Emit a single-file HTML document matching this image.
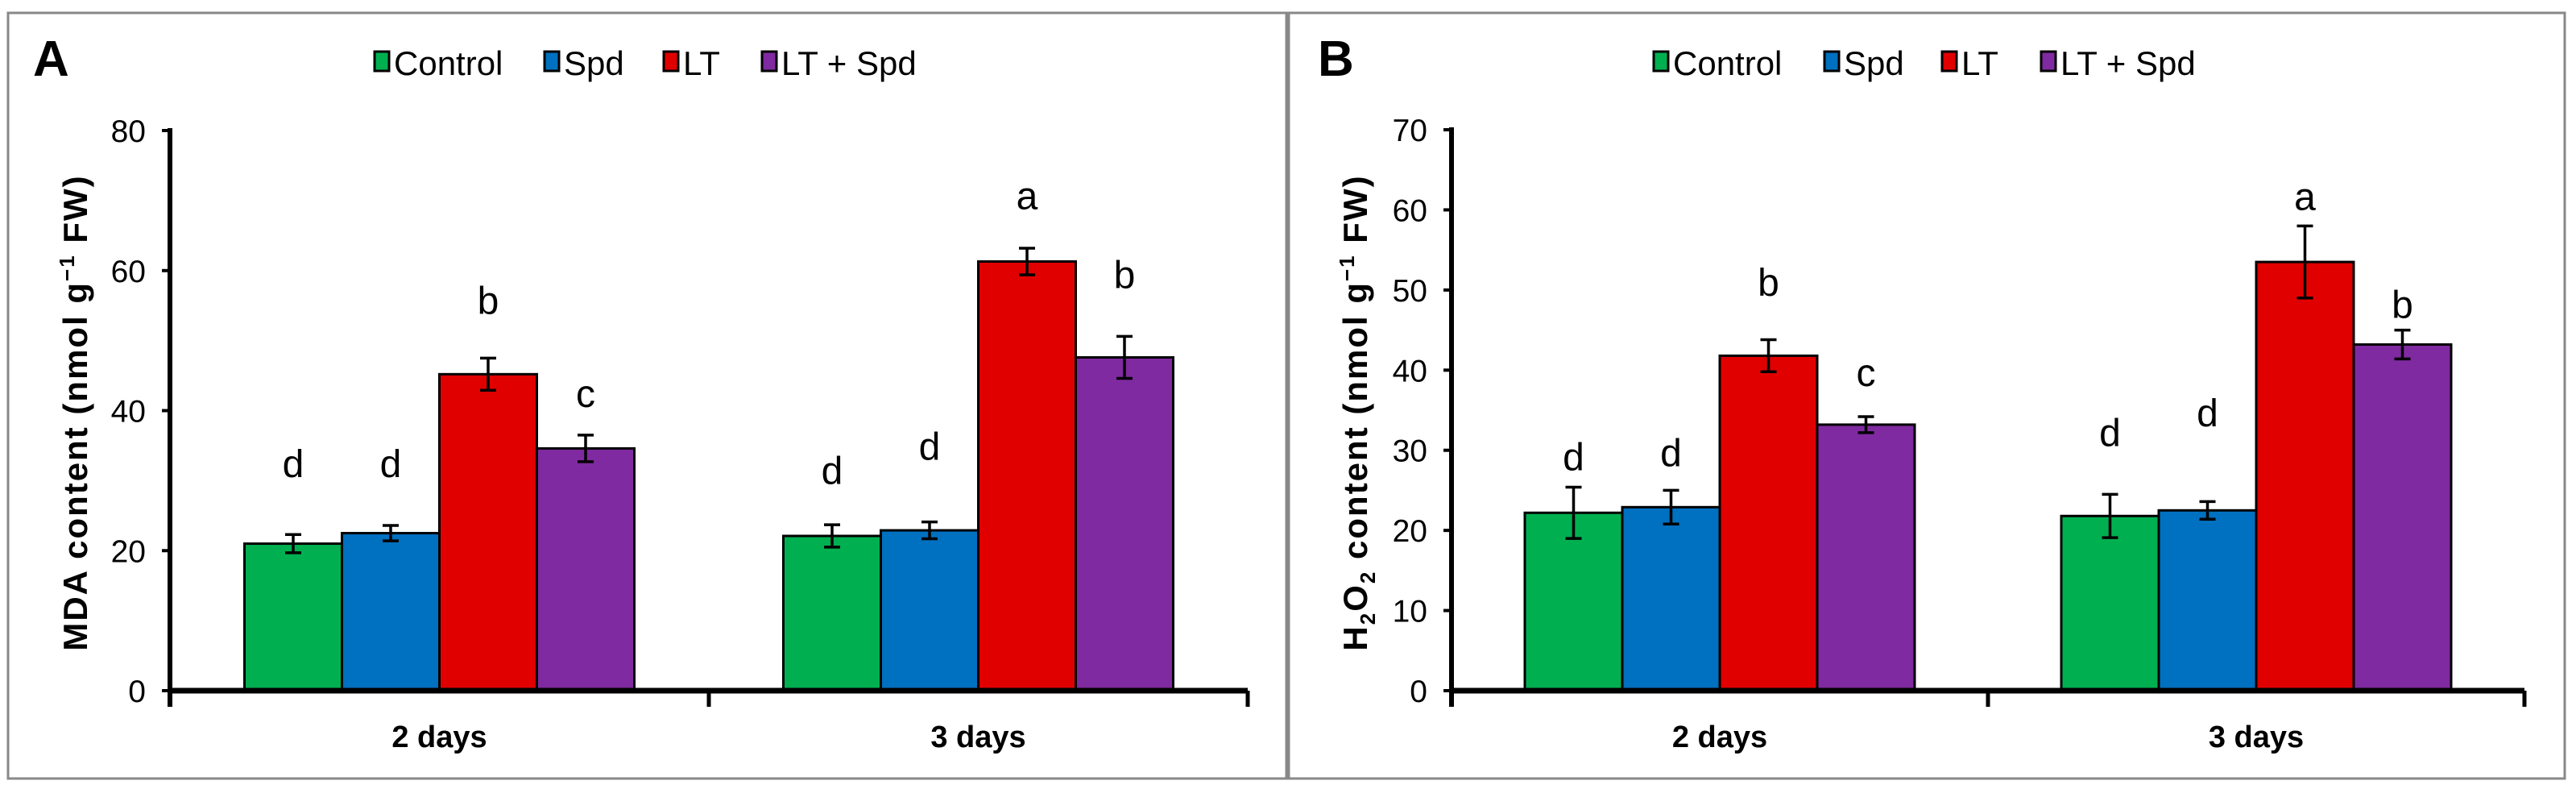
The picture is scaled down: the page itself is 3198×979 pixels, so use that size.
<!DOCTYPE html>
<html><head><meta charset="utf-8"><style>
html,body{margin:0;padding:0;background:#fff;}
svg{display:block;font-family:"Liberation Sans",Arial,sans-serif;}
</style></head><body>
<svg id="fig" width="3198" height="979" viewBox="0 0 3198 979" xmlns="http://www.w3.org/2000/svg">
<rect x="0" y="0" width="3198" height="979" fill="#fff"/>
</svg>
<script>
const categories = ["2 days", "3 days"];
const seriesNames = ["Control", "Spd", "LT", "LT + Spd"];
const colors = ["#00b050", "#0070c0", "#e00000", "#7f2aa0"];
const mdaValues = [[21.0, 22.5, 45.2, 34.6], [22.1, 22.9, 61.3, 47.6]];
const mdaErrors = [[1.3, 1.1, 2.3, 1.9], [1.6, 1.2, 1.9, 3.0]];
const mdaLetters = [["d", "d", "b", "c"], ["d", "d", "a", "b"]];
const mdaLetterVals = [[30.5, 30.5, 53.8, 40.5], [29.5, 33.0, 68.8, 57.5]];
const mdaTicks = [0, 20, 40, 60, 80];
const h2o2Values = [[22.2, 22.9, 41.8, 33.2], [21.8, 22.5, 53.5, 43.2]];
const h2o2Errors = [[3.2, 2.1, 2.0, 1.0], [2.7, 1.1, 4.5, 1.8]];
const h2o2Letters = [["d", "d", "b", "c"], ["d", "d", "a", "b"]];
const h2o2LetterVals = [[27.5, 28.0, 49.3, 38.0], [30.5, 33.0, 60.0, 46.5]];
const h2o2Ticks = [0, 10, 20, 30, 40, 50, 60, 70];

const NS = "http://www.w3.org/2000/svg";
const svg = document.getElementById("fig");
function mk(tag, attrs, parent, text) {
  const e = document.createElementNS(NS, tag);
  for (const k in attrs) e.setAttribute(k, attrs[k]);
  if (text !== undefined) e.textContent = text;
  (parent || svg).appendChild(e);
  return e;
}

function panel(cfg) {
  const g = mk("g", {});
  
  
  const fr = mk("rect", {x: cfg.fx, y: 16, width: cfg.fw, height: 950, fill: "none", stroke: "#888", "stroke-width": 3}, g);
  
  
  const lab = mk("text", {x: cfg.labX, y: 94, "font-size": 62, "font-weight": "bold"}, g, cfg.letter);
  
  
  for (let i = 0; i < seriesNames.length; i++) {
    const lg = mk("g", {}, g);
    
    
    const x = cfg.legendX[i];
    mk("rect", {x: x, y: 64, width: 18, height: 24, fill: colors[i], stroke: "#000", "stroke-width": 3}, lg);
    mk("text", {x: x + 24, y: 93, "font-size": 42}, lg, seriesNames[i]);
  }
  const y0 = cfg.y0, yTop = cfg.yTop, max = cfg.ticks[cfg.ticks.length - 1];
  const yS = v => y0 - (v / max) * (y0 - yTop);
  for (const t of cfg.ticks) {
    const tl = mk("line", {x1: cfg.ax - 10, x2: cfg.ax, y1: yS(t), y2: yS(t), stroke: "#000", "stroke-width": 4}, g);
    
    
    const tt = mk("text", {x: cfg.ax - 30, y: yS(t) + 14, "font-size": 39, "text-anchor": "end"}, g, String(t));
    
    
  }
  const groupW = (cfg.xEnd - cfg.ax) / categories.length;
  const bw = cfg.barW;
  for (let c = 0; c < categories.length; c++) {
    const gStart = cfg.ax + groupW * c + (groupW - bw * 4) / 2;
    for (let s = 0; s < 4; s++) {
      const v = cfg.values[c][s], e = cfg.errors[c][s];
      const x = gStart + bw * s;
      const b = mk("rect", {x: x, y: yS(v), width: bw, height: y0 - yS(v), fill: colors[s], stroke: "#000", "stroke-width": 3}, g);
      
      
      const cx = x + bw / 2;
      const eb = mk("path", {d: `M${cx},${yS(v + e)}V${yS(v - e)}M${cx - 10},${yS(v + e)}H${cx + 10}M${cx - 10},${yS(v - e)}H${cx + 10}`, stroke: "#000", "stroke-width": 3.5, fill: "none"}, g);
      
      
      const lt = mk("text", {x: cx, y: yS(cfg.letterVals[c][s]), "font-size": 48, "text-anchor": "middle"}, g, cfg.letters[c][s]);
      
      
    }
    const cl = mk("text", {x: cfg.ax + groupW * (c + 0.5), y: 927, "font-size": 38, "font-weight": "bold", "text-anchor": "middle"}, g, categories[c]);
    
    
  }
  const yax = mk("line", {x1: cfg.ax, x2: cfg.ax, y1: yTop - 3, y2: y0 + 20, stroke: "#000", "stroke-width": 6}, g);
  
  
  const xax = mk("line", {x1: cfg.ax - 3, x2: cfg.xEnd, y1: y0, y2: y0, stroke: "#000", "stroke-width": 7}, g);
  
  
  for (let c = 1; c <= categories.length; c++) {
    const xt = cfg.ax + groupW * c;
    mk("line", {x1: xt, x2: xt, y1: y0, y2: y0 + 20, stroke: "#000", "stroke-width": 5}, g);
  }
  const yt = mk("text", {x: 0, y: 0, "font-size": 42, "font-weight": "bold", "letter-spacing": 2, "text-anchor": "middle", transform: `translate(${cfg.titleX},${cfg.titleY}) rotate(-90)`}, g);
  
  
  yt.innerHTML = cfg.title;
}

panel({id: "mda", letter: "A", fx: 10, fw: 1587, labX: 41, legendX: [465, 676, 824, 946],
  ax: 211, xEnd: 1549, y0: 857, yTop: 162, barW: 121, ticks: mdaTicks,
  values: mdaValues, errors: mdaErrors, letters: mdaLetters, letterVals: mdaLetterVals,
  titleX: 108, titleY: 512,
  title: 'MDA content  (nmol g<tspan dy="-16" font-size="26">−1</tspan><tspan dy="16"> FW)</tspan>'});
panel({id: "h2o2", letter: "B", fx: 1600, fw: 1584, labX: 1636, legendX: [2053, 2265, 2411, 2534],
  ax: 1802, xEnd: 3134, y0: 857, yTop: 161, barW: 121, ticks: h2o2Ticks,
  values: h2o2Values, errors: h2o2Errors, letters: h2o2Letters, letterVals: h2o2LetterVals,
  titleX: 1697, titleY: 512,
  title: 'H<tspan dy="10" font-size="26">2</tspan><tspan dy="-10">O</tspan><tspan dy="10" font-size="26">2</tspan><tspan dy="-10"> content  (nmol g</tspan><tspan dy="-16" font-size="26">−1</tspan><tspan dy="16"> FW)</tspan>'});
</script>
</body></html>
